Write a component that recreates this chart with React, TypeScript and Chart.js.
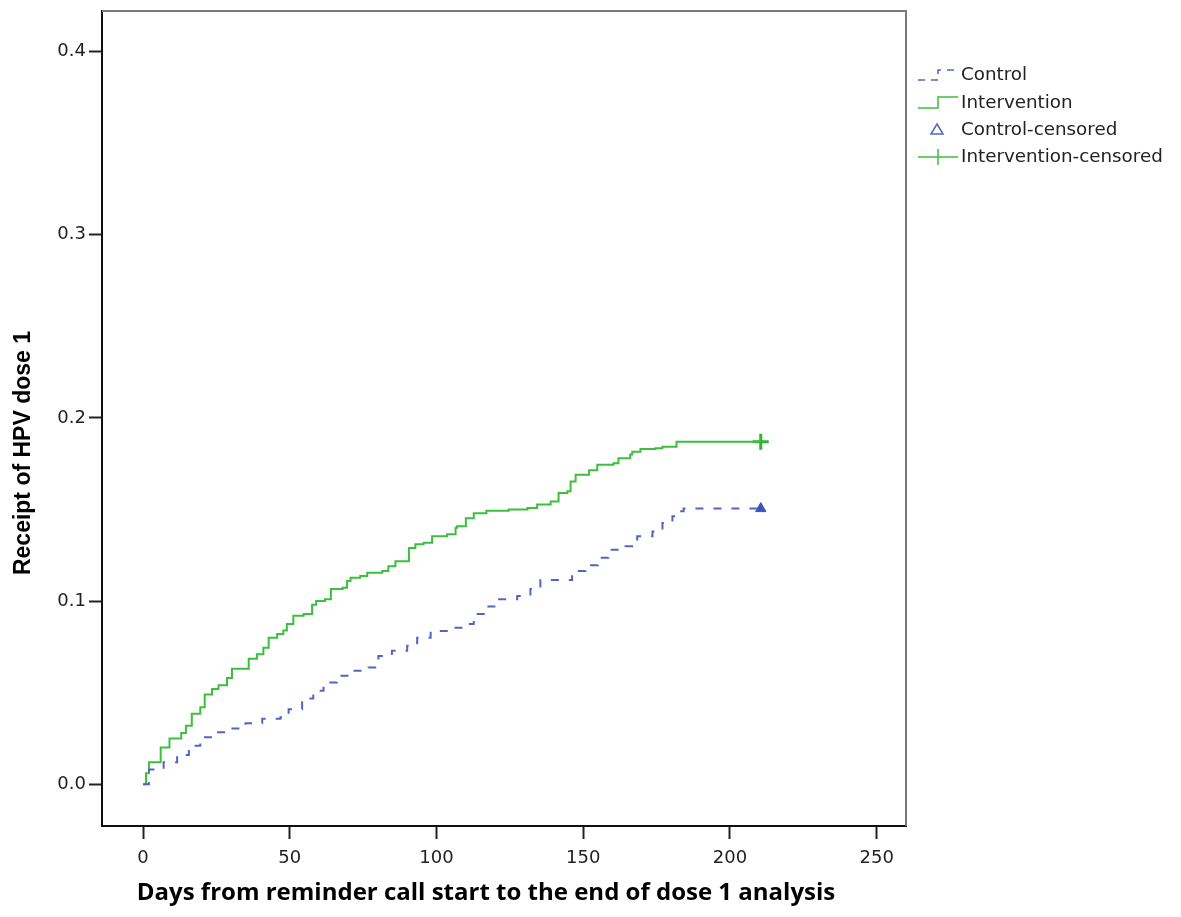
import React, { useEffect, useRef } from "react";
import { Chart, registerables } from "chart.js";

Chart.register(...registerables);

// Kaplan-Meier style cumulative curves: event day and cumulative proportion from that day on
const interventionDays = [
  0, 1, 2, 6, 9, 13, 14.6, 16.6, 19.5, 21, 23.5, 25.7, 28.6, 30.3, 36, 38.8, 41, 42.8, 45.7,
  47.8, 49, 51.2, 54.7, 57.6, 59, 62, 64, 68, 69.5, 70.7, 74, 76.4, 81.5, 83.6, 86, 90.6,
  92.8, 95.6, 98.5, 103.6, 106.5, 107, 110, 112.7, 117, 124.6, 131, 134.3, 138.9, 141.6,
  144.6, 145.7, 147.4, 152, 154.8, 160.3, 162, 166, 166.7, 169.5, 174.6, 177, 181.8, 210.5,
];
const interventionValues = [
  0, 0.006, 0.012, 0.02, 0.025, 0.028, 0.032, 0.0385, 0.042, 0.049, 0.052, 0.054, 0.058,
  0.063, 0.0685, 0.071, 0.0745, 0.08, 0.082, 0.084, 0.0875, 0.092, 0.093, 0.098, 0.1, 0.101,
  0.1066, 0.1073, 0.111, 0.1127, 0.1137, 0.1155, 0.1164, 0.119, 0.1218, 0.129, 0.131,
  0.1318, 0.1354, 0.1365, 0.14, 0.1408, 0.1453, 0.148, 0.1493, 0.15, 0.1508, 0.1528,
  0.1544, 0.159, 0.16, 0.1653, 0.169, 0.1715, 0.1745, 0.1753, 0.178, 0.18, 0.1816, 0.183,
  0.1834, 0.1843, 0.187, 0.187,
];

const controlDays = [
  0, 2, 7, 11.6, 15.6, 19.5, 24.7, 29.8, 34.9, 40.6, 46.8, 49.6, 54.2, 58, 61.5, 66, 71.3,
  76.8, 80.2, 84.8, 90, 93.4, 98, 104, 109, 112.7, 117.3, 120.7, 127.5, 132, 135.4, 146.2,
  150.8, 155, 158.6, 164.4, 168.4, 173.6, 177, 180.4, 181.5, 184.2, 210.5,
];
const controlValues = [
  0, 0.008, 0.012, 0.016, 0.021, 0.0257, 0.0284, 0.0304, 0.0333, 0.0357, 0.0366, 0.041,
  0.0468, 0.051, 0.0556, 0.0593, 0.062, 0.0638, 0.07, 0.0729, 0.0756, 0.08, 0.0837, 0.0855,
  0.0875, 0.093, 0.097, 0.101, 0.1028, 0.1066, 0.1115, 0.1164, 0.1196, 0.1236, 0.128, 0.13,
  0.1354, 0.138, 0.1426, 0.1463, 0.149, 0.1505, 0.1505,
];

// Censored observations at the end of follow-up
const controlCensoredDays = [210.5];
const controlCensoredValues = [0.1505];
const interventionCensoredDays = [210.5];
const interventionCensoredValues = [0.187];

const xTicks = [0, 50, 100, 150, 200, 250];
const yTicks = [0, 0.1, 0.2, 0.3, 0.4];

const legendLabels = ["Control", "Intervention", "Control-censored", "Intervention-censored"];
const xTitle = "Days from reminder call start to the end of dose 1 analysis";
const yTitle = "Receipt of HPV dose 1";

const BLUE = "#5067c0";
const GREEN = "#3dbf3d";

const toPoints = (xs: number[], ys: number[]) => xs.map((x, i) => ({ x, y: ys[i] }));

const decorPlugin = {
  id: "decor",
  afterDraw(chart: any) {
    const { ctx, chartArea } = chart;
    const { left, right, top, bottom } = chartArea;
    ctx.save();

    // top and right frame edges
    ctx.strokeStyle = "#7a7a7a";
    ctx.lineWidth = 2;
    ctx.beginPath();
    ctx.moveTo(left, top);
    ctx.lineTo(right, top);
    ctx.lineTo(right, bottom);
    ctx.stroke();

    // axis titles
    ctx.fillStyle = "#000";
    ctx.font = "bold 24px 'Open Sans'";
    ctx.textAlign = "center";
    ctx.textBaseline = "middle";
    ctx.fillText(xTitle, 486, 893);

    ctx.save();
    ctx.translate(24, 453);
    ctx.rotate(-Math.PI / 2);
    ctx.font = "bold 23px 'Liberation Sans'";
    ctx.fillText(yTitle, 0, 0);
    ctx.restore();

    // legend
    const lx = 918;
    const rows = [75, 103, 130, 157];
    ctx.lineWidth = 1.5;

    ctx.strokeStyle = BLUE;
    ctx.setLineDash([7, 6]);
    ctx.beginPath();
    ctx.moveTo(lx, rows[0] + 5);
    ctx.lineTo(lx + 20, rows[0] + 5);
    ctx.lineTo(lx + 20, rows[0] - 5);
    ctx.lineTo(lx + 40, rows[0] - 5);
    ctx.stroke();
    ctx.setLineDash([]);

    ctx.strokeStyle = GREEN;
    ctx.beginPath();
    ctx.moveTo(lx, rows[1] + 5);
    ctx.lineTo(lx + 20, rows[1] + 5);
    ctx.lineTo(lx + 20, rows[1] - 6);
    ctx.lineTo(lx + 40, rows[1] - 6);
    ctx.stroke();

    ctx.strokeStyle = BLUE;
    ctx.beginPath();
    ctx.moveTo(lx + 19, rows[2] - 6);
    ctx.lineTo(lx + 25, rows[2] + 4);
    ctx.lineTo(lx + 13, rows[2] + 4);
    ctx.closePath();
    ctx.stroke();

    ctx.strokeStyle = GREEN;
    ctx.beginPath();
    ctx.moveTo(lx, rows[3]);
    ctx.lineTo(lx + 40, rows[3]);
    ctx.moveTo(lx + 20, rows[3] - 8);
    ctx.lineTo(lx + 20, rows[3] + 8);
    ctx.stroke();

    ctx.fillStyle = "#222";
    ctx.font = "18.3px 'DejaVu Sans'";
    ctx.textAlign = "left";
    legendLabels.forEach((t, i) => ctx.fillText(t, 961, rows[i]));

    ctx.restore();
  },
};

export default function App() {
  const ref = useRef<HTMLCanvasElement | null>(null);

  useEffect(() => {
    if (!ref.current) return;
    const chart = new Chart(ref.current, {
      type: "line",
      data: {
        datasets: [
          {
            label: "Control",
            data: toPoints(controlDays, controlValues),
            borderColor: BLUE,
            borderWidth: 2,
            borderDash: [8, 10],
            stepped: "before",
            pointRadius: 0,
            fill: false,
          },
          {
            label: "Intervention",
            data: toPoints(interventionDays, interventionValues),
            borderColor: GREEN,
            borderWidth: 2,
            stepped: "before",
            pointRadius: 0,
            fill: false,
          },
          {
            label: "Control-censored",
            data: toPoints(controlCensoredDays, controlCensoredValues),
            showLine: false,
            pointStyle: "triangle",
            pointRadius: 6,
            backgroundColor: "#3a56b8",
            borderColor: "#3a56b8",
            borderWidth: 1,
          },
          {
            label: "Intervention-censored",
            data: toPoints(interventionCensoredDays, interventionCensoredValues),
            showLine: false,
            pointStyle: "cross",
            pointRadius: 8,
            borderColor: "#2fb52f",
            borderWidth: 3,
          },
        ],
      },
      options: {
        responsive: false,
        animation: false,
        devicePixelRatio: 1,
        layout: { padding: { left: 0, right: 275, top: 5, bottom: 0 } },
        plugins: { legend: { display: false }, tooltip: { enabled: false } },
        scales: {
          x: {
            type: "linear",
            min: -14,
            max: 260,
            afterBuildTicks: (s: any) => {
              s.ticks = xTicks.map((v) => ({ value: v }));
            },
            afterFit: (s: any) => {
              s.height = 91;
              s.paddingLeft = 0;
              s.paddingRight = 0;
            },
            grid: {
              drawOnChartArea: false,
              drawTicks: true,
              tickLength: 13,
              tickWidth: 2,
              tickColor: "#222",
            },
            border: { display: true, color: "#111", width: 2 },
            ticks: {
              color: "#222",
              font: { family: "'DejaVu Sans'", size: 18 },
              padding: 9,
              maxRotation: 0,
            },
          },
          y: {
            type: "linear",
            min: -0.0228,
            max: 0.4222,
            afterBuildTicks: (s: any) => {
              s.ticks = yTicks.map((v) => ({ value: v }));
            },
            afterFit: (s: any) => {
              s.width = 102;
              s.paddingTop = 0;
              s.paddingBottom = 0;
            },
            grid: {
              drawOnChartArea: false,
              drawTicks: true,
              tickLength: 13,
              tickWidth: 2,
              tickColor: "#222",
            },
            border: { display: true, color: "#111", width: 2 },
            ticks: {
              color: "#222",
              font: { family: "'DejaVu Sans'", size: 18 },
              padding: 3,
              callback: (v: any) => Number(v).toFixed(1),
            },
          },
        },
      },
      plugins: [decorPlugin],
    });
    return () => chart.destroy();
  }, []);

  return (
    <div style={{ position: "absolute", left: 0, top: 0, width: 1181, height: 917, background: "#fff" }}>
      <canvas ref={ref} width={1181} height={917} />
    </div>
  );
}
